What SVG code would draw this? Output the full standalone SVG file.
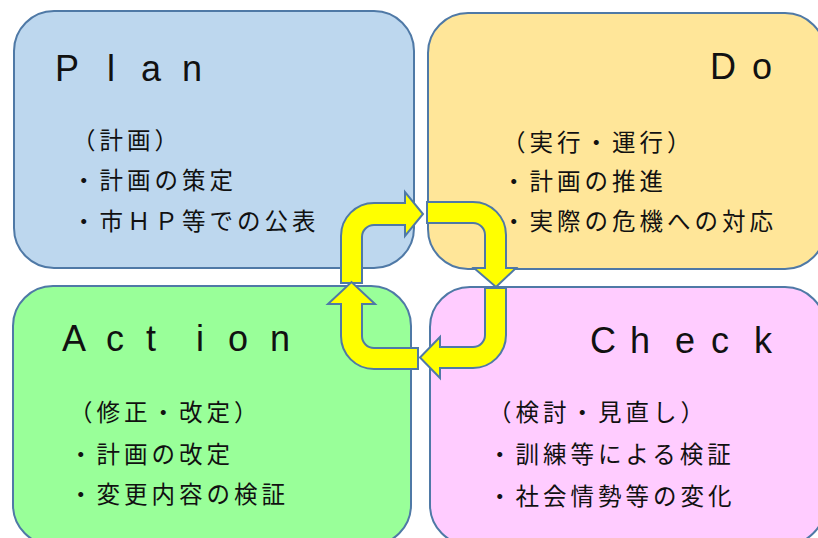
<svg xmlns="http://www.w3.org/2000/svg" width="818" height="538" viewBox="0 0 818 538">
<style>
.box{stroke:#4f79a6;stroke-width:2}
.head{font-family:"Liberation Sans",Arial,sans-serif;font-size:36px;fill:#111}
.jp{font-family:"Noto Sans CJK JP","Noto Sans",sans-serif;font-size:23.5px;letter-spacing:4px;fill:#111}
.arrow{fill:#ffff00;stroke:#4f79a6;stroke-width:2;stroke-linejoin:miter}
</style>
<rect width="818" height="538" fill="#ffffff"/>
<g id="plan">
<rect class="box" x="14" y="11" width="400" height="257" rx="40" fill="#bdd7ee"/>
<text class="head" x="55 107 141 182" y="81">Plan</text>
<text class="jp" x="72" y="149">（計画）</text>
<text class="jp" x="72" y="189">・計画の策定</text>
<text class="jp" x="72" y="230">・市ＨＰ等での公表</text>
</g>
<g id="do">
<rect class="box" x="428" y="13" width="397" height="256" rx="40" fill="#ffe699"/>
<text class="head" x="710 752" y="79">Do</text>
<text class="jp" x="502" y="151">（実行・運行）</text>
<text class="jp" x="502" y="190">・計画の推進</text>
<text class="jp" x="502" y="230">・実際の危機への対応</text>
</g>
<g id="action">
<rect class="box" x="13" y="286" width="398" height="259" rx="40" fill="#99ff99"/>
<text class="head" x="62 106 146 196 228 270" y="351">Action</text>
<text class="jp" x="69" y="421">（修正・改定）</text>
<text class="jp" x="69" y="463">・計画の改定</text>
<text class="jp" x="69" y="503">・変更内容の検証</text>
</g>
<g id="check">
<rect class="box" x="430" y="287" width="395" height="258" rx="40" fill="#ffccff"/>
<text class="head" x="590 630 675 711 754" y="353">Check</text>
<text class="jp" x="488" y="421">（検討・見直し）</text>
<text class="jp" x="488" y="463">・訓練等による検証</text>
<text class="jp" x="488" y="505">・社会情勢等の変化</text>
</g>
<g id="connectors">
<path class="arrow" d="M341,283 L341,236 A33,33 0 0 1 374,203 L405,203 L405,192 L423,214 L405,236 L405,225 L374,225 A12,12 0 0 0 362,237 L362,283 Z"/>
<path class="arrow" d="M427,202 L473,202 A33,33 0 0 1 506,235 L506,268 L516,268 L496,287 L474,268 L485,268 L485,235 A12,12 0 0 0 473,223 L427,223 Z"/>
<path class="arrow" d="M485,288 L506,288 L506,335 A33,33 0 0 1 473,368 L440,368 L440,378 L420,357.5 L440,337 L440,347 L473,347 A12,12 0 0 0 485,335 Z"/>
<path class="arrow" d="M418,369 L374,369 A33,33 0 0 1 341,336 L341,304 L328,304 L351.5,282 L375,304 L362,304 L362,336 A12,12 0 0 0 374,348 L418,348 Z"/>
</g>
</svg>
